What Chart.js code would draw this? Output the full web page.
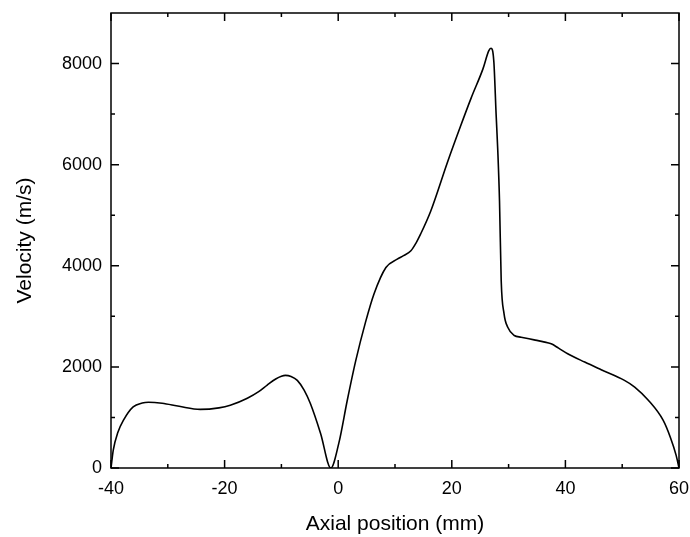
<!DOCTYPE html>
<html>
<head>
<meta charset="utf-8">
<script src="https://cdn.jsdelivr.net/npm/chart.js@4.4.0/dist/chart.umd.min.js"></script>
<style>
  html, body { margin: 0; padding: 0; background: #fff; }
  #wrap { width: 690px; height: 537px; }
</style>
</head>
<body>
<div id="wrap"><canvas id="chart"></canvas></div>
<script>
// --- Data ---
const positions = [
	-40, -39.6, -38.8, -37.8, -36.1, -34.5, -33.4, -31, -28, -24.3,
	-21, -19, -16, -14, -12.5, -11, -10, -9.3, -8.3, -7.2,
	-6, -4.9, -3.1, -1.3, 0.1, 1.6, 3.1, 4.8, 6.3, 8.4,
	10.4, 11.5, 12.8, 13.7, 14.5, 16.3, 19.3, 21.5, 23.4, 25.5,
	26.5, 26.9, 27.4, 27.8, 28.1, 28.4, 28.7, 29.2, 29.85, 31,
	32.2, 34.5, 36, 37.5, 38.8, 40.4, 43.4, 46.3, 50.4, 52.2,
	54.6, 57.2, 58.5, 59.5, 60,
];
const velocities = [
	0, 355, 700, 946, 1208, 1285, 1300, 1280, 1220, 1160,
	1190, 1241, 1380, 1510, 1640, 1760, 1815, 1832, 1810, 1734,
	1540, 1275, 684, 0, 487, 1340, 2128, 2880, 3442, 3966,
	4131, 4200, 4296, 4450, 4625, 5084, 6069, 6750, 7317, 7900,
	8250, 8302, 8040, 7000, 6266, 5281, 3700, 3050, 2784, 2621,
	2588, 2535, 2500, 2456, 2370, 2260, 2095, 1944, 1734, 1602,
	1340, 946, 600, 250, 0,
];
const xTicksMajor = [-40, -20, 0, 20, 40, 60];
const xTicksMinor = [-30, -10, 10, 30, 50];
const yTicksMajor = [0, 2000, 4000, 6000, 8000];
const yTicksMinor = [1000, 3000, 5000, 7000];

const FONT = "'Liberation Sans', Arial, sans-serif";

// frame + inward ticks on all four sides
const frameTicks = {
	id: "frameTicks",
	afterDraw(chart) {
		const { ctx, chartArea: a, scales } = chart;
		const x = scales.x, y = scales.y;
		ctx.save();
		ctx.strokeStyle = "#000";
		ctx.lineWidth = 1.5;
		ctx.strokeRect(a.left, a.top, a.right - a.left, a.bottom - a.top);
		ctx.beginPath();
		const tickX = (v, len) => {
			const px = x.getPixelForValue(v);
			ctx.moveTo(px, a.bottom);
			ctx.lineTo(px, a.bottom - len);
			ctx.moveTo(px, a.top);
			ctx.lineTo(px, a.top + len);
		};
		const tickY = (v, len) => {
			const py = y.getPixelForValue(v);
			ctx.moveTo(a.left, py);
			ctx.lineTo(a.left + len, py);
			ctx.moveTo(a.right, py);
			ctx.lineTo(a.right - len, py);
		};
		xTicksMajor.forEach((v) => tickX(v, 8));
		xTicksMinor.forEach((v) => tickX(v, 4));
		yTicksMajor.forEach((v) => tickY(v, 8));
		yTicksMinor.forEach((v) => tickY(v, 4));
		ctx.stroke();
		ctx.restore();
	},
};

new Chart(document.getElementById("chart"), {
	type: "line",
	data: {
		datasets: [
			{
				data: positions.map((p, i) => ({ x: p, y: velocities[i] })),
				borderColor: "#000",
				borderWidth: 1.6,
				pointRadius: 0,
				fill: false,
				cubicInterpolationMode: "monotone",
			},
		],
	},
	options: {
		responsive: true,
		maintainAspectRatio: false,
		animation: false,
		layout: { padding: { top: 13, right: 11, left: 0, bottom: 0 } },
		plugins: {
			legend: { display: false },
			tooltip: { enabled: false },
		},
		scales: {
			x: {
				type: "linear",
				min: -40,
				max: 60,
				grid: { display: false, drawTicks: false },
				border: { display: false },
				afterBuildTicks(scale) {
					scale.ticks = xTicksMajor.map((v) => ({ value: v }));
				},
				ticks: {
					color: "#000",
					padding: 10,
					maxRotation: 0,
					autoSkip: false,
					font: { family: FONT, size: 18 },
					callback: (v) => String(v),
				},
				title: {
					display: true,
					text: "Axial position (mm)",
					color: "#000",
					font: { family: FONT, size: 21 },
					padding: { top: 4, bottom: 0 },
				},
				afterFit(scale) {
					scale.height = 69;
					scale.paddingLeft = 0;
					scale.paddingRight = 0;
				},
			},
			y: {
				type: "linear",
				min: 0,
				max: 9000,
				grid: { display: false, drawTicks: false },
				border: { display: false },
				afterBuildTicks(scale) {
					scale.ticks = yTicksMajor.map((v) => ({ value: v }));
				},
				ticks: {
					color: "#000",
					padding: 9,
					autoSkip: false,
					font: { family: FONT, size: 18 },
					callback: (v) => String(v),
				},
				title: {
					display: true,
					text: "Velocity (m/s)",
					color: "#000",
					font: { family: FONT, size: 21 },
					padding: { top: 13, bottom: 6 },
				},
				afterFit(scale) {
					scale.width = 111;
					scale.paddingTop = 0;
					scale.paddingBottom = 0;
				},
			},
		},
	},
	plugins: [frameTicks],
});
</script>
</body>
</html>
